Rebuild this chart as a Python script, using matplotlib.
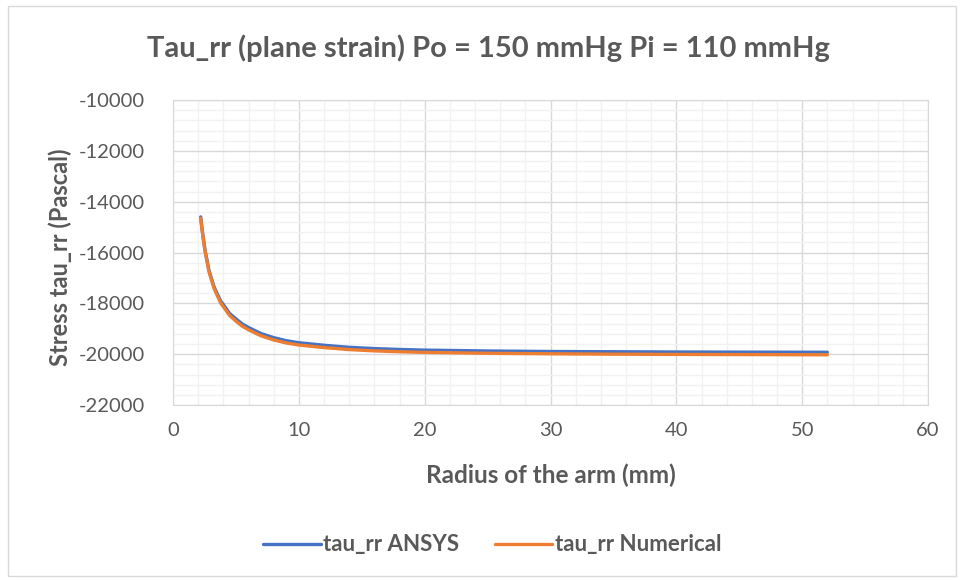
import matplotlib
matplotlib.use("Agg")
import matplotlib.pyplot as plt
from matplotlib.ticker import MultipleLocator
from matplotlib.patches import Rectangle

radius_mm = [2.2, 2.3, 2.4, 2.55, 2.7, 2.85, 3.0, 3.25, 3.5, 3.8, 4.0, 4.5, 5.0, 5.5,
             6.0, 7.0, 8.0, 9.0, 10, 12, 14, 16, 18, 20, 25, 30, 35, 40, 45, 52]
tau_ansys = [-14600, -15030, -15400, -15920, -16300, -16680, -16930, -17330, -17610,
             -17920, -18050, -18400, -18610, -18810, -18950, -19190, -19350, -19470,
             -19550, -19650, -19730, -19780, -19815, -19840, -19875, -19895, -19905,
             -19915, -19920, -19925]
tau_numerical = [-14650, -15080, -15450, -15970, -16350, -16740, -16990, -17400, -17680,
                 -18000, -18130, -18480, -18700, -18900, -19040, -19280, -19440, -19560,
                 -19640, -19740, -19820, -19870, -19905, -19930, -19965, -19985, -20000,
                 -20010, -20015, -20025]
series_names = ["tau_rr ANSYS", "tau_rr Numerical"]
title = "Tau_rr (plane strain) Po = 150 mmHg Pi = 110 mmHg"
x_label = "Radius of the arm (mm)"
y_label = "Stress tau_rr (Pascal)"

plt.rcParams['font.family'] = ['Lato', 'DejaVu Sans']
plt.rcParams['axes.unicode_minus'] = False
TXT = '#595959'

fig = plt.figure(figsize=(9.6, 5.8), dpi=100)
fig.patches.append(Rectangle((8/960, 4/580), 948/960, 570/580, transform=fig.transFigure,
                             fill=False, edgecolor='#D9D9D9', linewidth=1.0))
ax = fig.add_axes([173/960, 1-405/580, (928-173)/960, (405-100)/580])

ax.plot(radius_mm, tau_ansys, color='#4472C4', lw=2.4, label=series_names[0],
        solid_capstyle='round')
ax.plot(radius_mm, tau_numerical, color='#ED7D31', lw=2.4, label=series_names[1],
        solid_capstyle='round')

ax.set_xlim(0, 60)
ax.set_ylim(-22000, -10000)
ax.xaxis.set_major_locator(MultipleLocator(10))
ax.xaxis.set_minor_locator(MultipleLocator(2))
ax.yaxis.set_major_locator(MultipleLocator(2000))
ax.yaxis.set_minor_locator(MultipleLocator(400))
ax.grid(which='major', color='#D9D9D9', lw=1.0)
ax.grid(which='minor', color='#F2F2F2', lw=1.0)
ax.set_axisbelow(True)
for s in ax.spines.values():
    s.set_color('#D9D9D9')
ax.tick_params(which='both', length=0, colors=TXT, labelsize=14.5)
ax.tick_params(axis='y', pad=20)
ax.tick_params(axis='x', pad=12)

fig.text(488/960, 1-48/580, title, fontsize=21, fontweight='bold', color=TXT,
         ha='center', va='center')
fig.text(551/960, 1-475/580, x_label, fontsize=17.5, fontweight='bold',
         color=TXT, ha='center', va='center')
fig.text(60/960, 1-257/580, y_label, fontsize=17, fontweight='bold',
         color=TXT, ha='center', va='center', rotation=90)

leg = fig.legend(loc='center', bbox_to_anchor=(492/960, 1-545/580), ncol=2, frameon=False,
                 fontsize=16, handlelength=2.6, columnspacing=1.6, handletextpad=0.1)
for t in leg.get_texts():
    t.set_color(TXT)
    t.set_fontweight('bold')

fig.savefig("out.png", dpi=100, facecolor='white')
